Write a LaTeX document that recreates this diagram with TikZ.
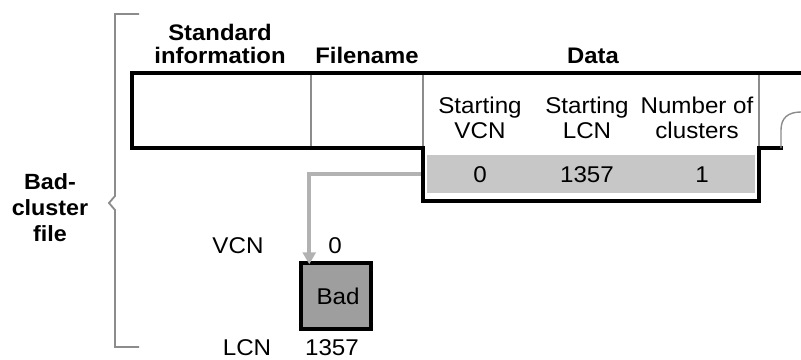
\documentclass[tikz,border=0pt]{standalone}
\usepackage{fontspec}
\setmainfont[FakeStretch=1.06]{Liberation Sans}
\usetikzlibrary{arrows.meta}
\begin{document}
\begin{tikzpicture}[x=1pt,y=-1pt,
  txt/.style={font=\fontsize{22.8}{24.5}\selectfont, align=center, inner sep=0pt, anchor=base},
  hdr/.style={font=\fontsize{22.5}{23}\selectfont\bfseries, align=center, inner sep=0pt, anchor=base},
  side/.style={font=\fontsize{22}{26}\selectfont\bfseries, align=center, inner sep=0pt, anchor=base},
  heavy/.style={line width=3.5pt, black, line join=miter},
  light/.style={line width=1.4pt, black!45},
  brace/.style={line width=1.8pt, black!45},
  link/.style={line width=4pt, black!30, -{Triangle[length=12pt,width=13pt]}},
  rowfill/.style={fill=black!22, draw=none, minimum width=328pt, minimum height=38pt, inner sep=0pt},
  badbox/.style={fill=black!38, draw=black, line width=3.5pt, minimum width=70pt, minimum height=66pt, inner sep=0pt}]
\useasboundingbox (0,0) rectangle (801,359);
% bracket
\draw[brace] (139,14) -- (115,14) -- (115,196) -- (109,203) -- (115,210) -- (115,347) -- (139,347);
\node[side] (bcf) at (50,241) {Bad-\\cluster\\file};
% headers
\node[hdr] (std) at (220,63) {Standard\\information};
\node[hdr] (fn) at (367,63) {Filename};
\node[hdr] (data) at (593,63) {Data};
% shaded row
\node[rowfill] (row) at (591,174) {};
% record outline
\draw[light] (311,73) -- (311,148);
\draw[light] (423,73) -- (423,148);
\draw[light] (759,73) -- (759,148);
\draw[heavy] (801,73) -- (132,73) -- (132,148) -- (423,148) -- (423,201) -- (759,201) -- (759,148) -- (783,148);
\draw[light] (781,148) -- (781,130) .. controls (781,118) and (788,112) .. (801,112);
% column heads
\node[txt] (svcn) at (480,138) {Starting\\VCN};
\node[txt] (slcn) at (587,138) {Starting\\LCN};
\node[txt] (noc) at (697,138) {Number of\\clusters};
% values
\node[txt] (v0) at (480,182) {0};
\node[txt] (v1357) at (587,182) {1357};
\node[txt] (v1) at (702,182) {1};
% bad cluster
\node[badbox] (bad) at (336,296) {};
\node[txt] (badtxt) at (338,304) {Bad};
\node[txt] (vcn) at (238,253) {VCN};
\node[txt] (vcn0) at (335,253) {0};
\node[txt] (lcn) at (247,355) {LCN};
\node[txt] (lcn1357) at (332,355) {1357};
\coordinate (start) at (row.west);
\draw[link] ([xshift=-6pt]start) -| ([xshift=10pt,yshift=-3pt]bad.north west);
\end{tikzpicture}
\end{document}
